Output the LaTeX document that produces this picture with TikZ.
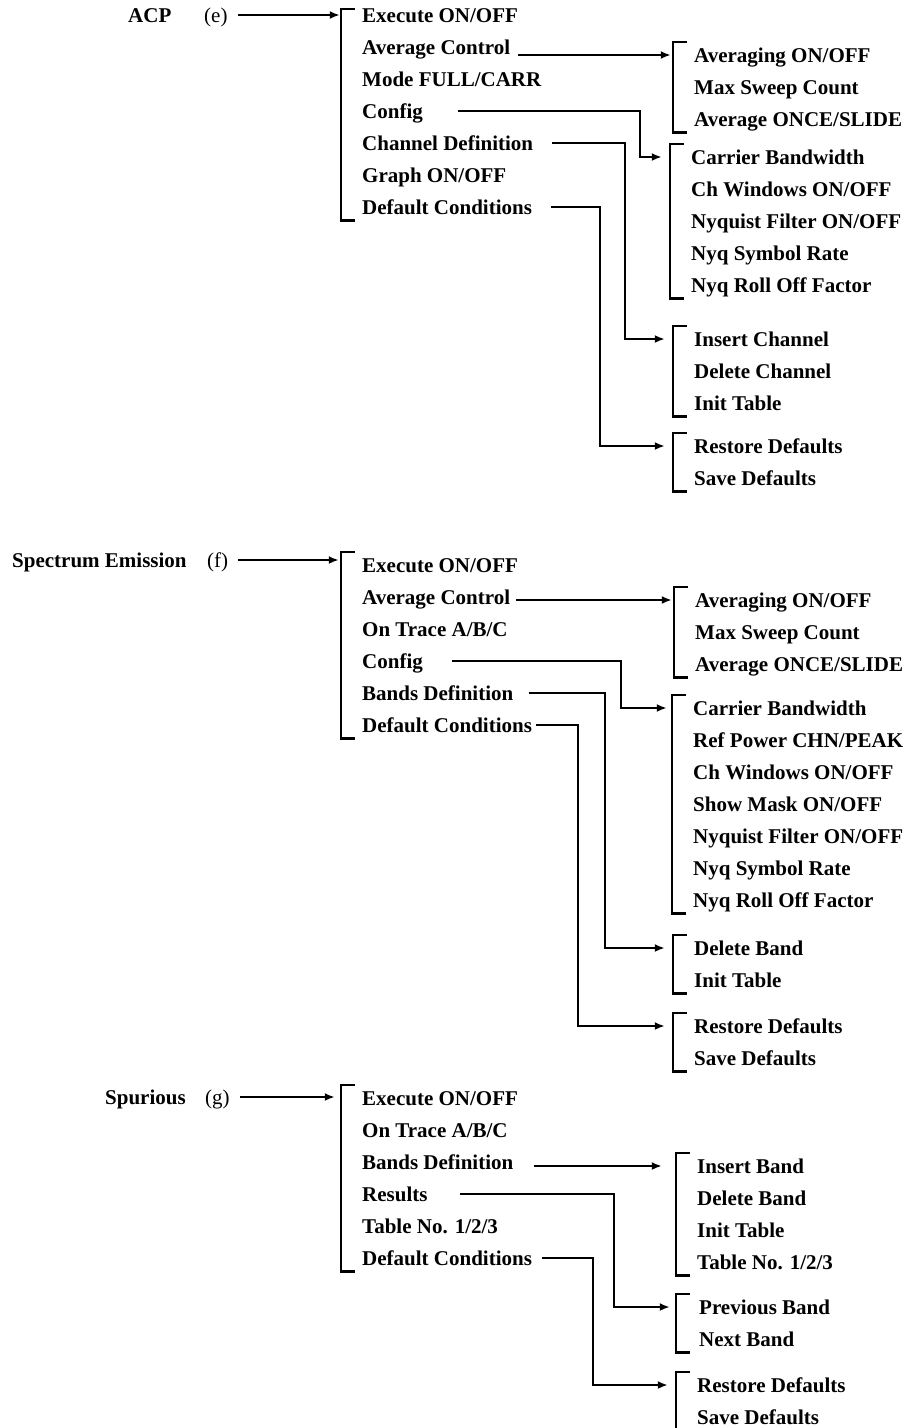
\documentclass[tikz,border=0pt]{standalone}
\usepackage{fontspec}
\setmainfont{Liberation Serif}
\usetikzlibrary{arrows.meta, positioning, fit}
\newcommand{\menubracket}[1]{%
  \draw[brk] ([xshift=14pt]#1.north west) -- (#1.north west)
    -- (#1.south west) -- ([xshift=14pt]#1.south west);}

\begin{document}
\begin{tikzpicture}[x=1pt, y=-1pt,
  entry/.style={font=\fontsize{21}{25}\selectfont\bfseries, inner sep=0pt,
    text height=14pt, text depth=0pt, anchor=west},
  tag/.style={font=\fontsize{21}{25}\selectfont, inner sep=0pt,
    text height=14pt, text depth=0pt, anchor=west},
  nextrow/.style={below=32pt of #1.west, anchor=west},
  grp/.style={inner xsep=21pt, inner ysep=6pt},
  brk/.style={line width=2.2pt},
  link/.style={line width=2.2pt, -{Latex[length=10pt, width=8pt]}, shorten >=8pt}]
  \useasboundingbox (0,0) rectangle (910,1428);

  \node[entry] (acpHead) at (128,15) {ACP};
  \node[tag] (acpTag) at (204,15) {(e)};
  \node[entry] (acp1) at (362,15) {Execute ON/OFF};
  \node[entry, nextrow=acp1] (acp2) {Average Control};
  \node[entry, nextrow=acp2] (acp3) {Mode FULL/CARR};
  \node[entry, nextrow=acp3] (acp4) {Config};
  \node[entry, nextrow=acp4] (acp5) {Channel Definition};
  \node[entry, nextrow=acp5] (acp6) {Graph ON/OFF};
  \node[entry, nextrow=acp6] (acp7) {Default Conditions};
  \node[grp, fit=(acp1.center)(acp7)] (acpG) {};

  \node[entry] (avgA1) at (694,55) {Averaging ON/OFF};
  \node[entry, nextrow=avgA1] (avgA2) {Max Sweep Count};
  \node[entry, nextrow=avgA2] (avgA3) {Average ONCE/SLIDE};
  \node[grp, fit=(avgA1)(avgA3)] (avgAG) {};

  \node[entry] (cfgA1) at (691,157) {Carrier Bandwidth};
  \node[entry, nextrow=cfgA1] (cfgA2) {Ch Windows ON/OFF};
  \node[entry, nextrow=cfgA2] (cfgA3) {Nyquist Filter ON/OFF};
  \node[entry, nextrow=cfgA3] (cfgA4) {Nyq Symbol Rate};
  \node[entry, nextrow=cfgA4] (cfgA5) {Nyq Roll Off Factor};
  \node[grp, fit=(cfgA1)(cfgA5)] (cfgAG) {};

  \node[entry] (chA1) at (694,339) {Insert Channel};
  \node[entry, nextrow=chA1] (chA2) {Delete Channel};
  \node[entry, nextrow=chA2] (chA3) {Init Table};
  \node[grp, fit=(chA1)(chA3)] (chAG) {};

  \node[entry] (defA1) at (694,446) {Restore Defaults};
  \node[entry, nextrow=defA1] (defA2) {Save Defaults};
  \node[grp, fit=(defA1)(defA2)] (defAG) {};

  \node[entry] (spHead) at (12,560) {Spectrum Emission};
  \node[tag] (spTag) at (207,560) {(f)};
  \node[entry] (sp1) at (362,565) {Execute ON/OFF};
  \node[entry, nextrow=sp1] (sp2) {Average Control};
  \node[entry, nextrow=sp2] (sp3) {On Trace A/B/C};
  \node[entry, nextrow=sp3] (sp4) {Config};
  \node[entry, nextrow=sp4] (sp5) {Bands Definition};
  \node[entry, nextrow=sp5] (sp6) {Default Conditions};
  \node[grp, fit=(sp1)(sp6)] (spG) {};

  \node[entry] (avgB1) at (695,600) {Averaging ON/OFF};
  \node[entry, nextrow=avgB1] (avgB2) {Max Sweep Count};
  \node[entry, nextrow=avgB2] (avgB3) {Average ONCE/SLIDE};
  \node[grp, fit=(avgB1)(avgB3)] (avgBG) {};

  \node[entry] (cfgB1) at (693,708) {Carrier Bandwidth};
  \node[entry, nextrow=cfgB1] (cfgB2) {Ref Power CHN/PEAK};
  \node[entry, nextrow=cfgB2] (cfgB3) {Ch Windows ON/OFF};
  \node[entry, nextrow=cfgB3] (cfgB4) {Show Mask ON/OFF};
  \node[entry, nextrow=cfgB4] (cfgB5) {Nyquist Filter ON/OFF};
  \node[entry, nextrow=cfgB5] (cfgB6) {Nyq Symbol Rate};
  \node[entry, nextrow=cfgB6] (cfgB7) {Nyq Roll Off Factor};
  \node[grp, fit=(cfgB1)(cfgB7)] (cfgBG) {};

  \node[entry] (bandB1) at (694,948) {Delete Band};
  \node[entry, nextrow=bandB1] (bandB2) {Init Table};
  \node[grp, fit=(bandB1)(bandB2)] (bandBG) {};

  \node[entry] (defB1) at (694,1026) {Restore Defaults};
  \node[entry, nextrow=defB1] (defB2) {Save Defaults};
  \node[grp, fit=(defB1)(defB2)] (defBG) {};

  \node[entry] (spuHead) at (105,1097) {Spurious};
  \node[tag] (spuTag) at (205,1097) {(g)};
  \node[entry] (spu1) at (362,1098) {Execute ON/OFF};
  \node[entry, nextrow=spu1] (spu2) {On Trace A/B/C};
  \node[entry, nextrow=spu2] (spu3) {Bands Definition};
  \node[entry, nextrow=spu3] (spu4) {Results};
  \node[entry, nextrow=spu4] (spu5) {Table No. 1/2/3};
  \node[entry, nextrow=spu5] (spu6) {Default Conditions};
  \node[grp, fit=(spu1)(spu6)] (spuG) {};

  \node[entry] (bandC1) at (697,1166) {Insert Band};
  \node[entry, nextrow=bandC1] (bandC2) {Delete Band};
  \node[entry, nextrow=bandC2] (bandC3) {Init Table};
  \node[entry, nextrow=bandC3] (bandC4) {Table No. 1/2/3};
  \node[grp, fit=(bandC1)(bandC4)] (bandCG) {};

  \node[entry] (resC1) at (699,1307) {Previous Band};
  \node[entry, nextrow=resC1] (resC2) {Next Band};
  \node[grp, fit=(resC1)(resC2), xshift=-2pt] (resCG) {};

  \node[entry] (defC1) at (697,1385) {Restore Defaults};
  \node[entry, nextrow=defC1] (defC2) {Save Defaults};
  \node[grp, fit=(defC1)(defC2)] (defCG) {};

  \foreach \g in {acpG, avgAG, cfgAG, chAG, defAG, spG, avgBG, cfgBG, bandBG,
    defBG, spuG, bandCG, resCG, defCG}
    \menubracket{\g};

  \draw[link, shorten >=1pt] ([xshift=10pt]acpTag.east) -- (acpTag -| acpG.west);
  \draw[link, shorten >=2pt] ([xshift=8pt]acp2.east |- avgA1) -- (avgA1 -| avgAG.west);
  \draw[link] ([xshift=35pt]acp4.east) -| ([xshift=-30pt]cfgAG.west |- cfgA1) -- (cfgA1 -| cfgAG.west);
  \draw[link] ([xshift=19pt]acp5.east) -| ([xshift=-48pt]chAG.west |- chA1) -- (chA1 -| chAG.west);
  \draw[link] ([xshift=19pt]acp7.east) -| ([xshift=-73pt]defAG.west |- defA1) -- (defA1 -| defAG.west);

  \draw[link, shorten >=2pt] ([xshift=10pt]spTag.east) -- (spTag -| spG.west);
  \draw[link, shorten >=2pt] ([xshift=6pt]sp2.east |- avgB1) -- (avgB1 -| avgBG.west);
  \draw[link, shorten >=5pt] ([xshift=29pt]sp4.east) -| ([xshift=-51pt]cfgBG.west |- cfgB1) -- (cfgB1 -| cfgBG.west);
  \draw[link] ([xshift=15pt]sp5.east) -| ([xshift=-68pt]bandBG.west |- bandB1) -- (bandB1 -| bandBG.west);
  \draw[link] ([xshift=4pt]sp6.east) -| ([xshift=-95pt]defBG.west |- defB1) -- (defB1 -| defBG.west);

  \draw[link, shorten >=6pt] ([xshift=10pt]spuTag.east) -- (spuTag -| spuG.west);
  \draw[link, shorten >=14pt] ([xshift=20pt]spu3.east |- bandC1) -- (bandC1 -| bandCG.west);
  \draw[link, shorten >=6pt] ([xshift=32pt]spu4.east) -| ([xshift=-62pt]resCG.west |- resC1) -- (resC1 -| resCG.west);
  \draw[link] ([xshift=10pt]spu6.east) -| ([xshift=-83pt]defCG.west |- defC1) -- (defC1 -| defCG.west);
\end{tikzpicture}
\end{document}
